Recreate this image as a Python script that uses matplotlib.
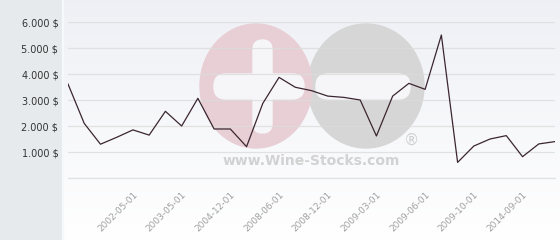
import numpy as np
import matplotlib
matplotlib.use("Agg")
import matplotlib.pyplot as plt
from matplotlib.patches import Ellipse, FancyBboxPatch, Rectangle

# data (31 points, every 3rd one labelled)
prices = [3615, 2100, 1300, 1565, 1850, 1650, 2565, 2000, 3065, 1885,
          1885, 1205, 2870, 3870, 3490, 3360, 3150, 3100, 3000, 1615,
          3150, 3640, 3410, 5500, 600, 1230, 1500, 1630, 820, 1310, 1400]
tick_pos = [4, 7, 10, 13, 16, 19, 22, 25, 28]
tick_labels = ["2002-05-01", "2003-05-01", "2004-12-01", "2008-06-01",
               "2008-12-01", "2009-03-01", "2009-06-01", "2009-10-01",
               "2014-09-01"]
y_ticks = [0, 1000, 2000, 3000, 4000, 5000, 6000]

W, H = 560, 240
fig = plt.figure(figsize=(W / 100, H / 100), dpi=100)
fig.patch.set_facecolor("#e6eaed")

# background layer in pixel coordinates
bg = fig.add_axes([0, 0, 1, 1], zorder=0)
bg.set_xlim(0, W)
bg.set_ylim(H, 0)
bg.axis("off")

grad = np.linspace(0, 1, 100).reshape(-1, 1)
top = np.array([0.933, 0.941, 0.961])
bottom = np.array([1.0, 1.0, 1.0])
img = top + (bottom - top) * grad[..., None]
bg.imshow(img, extent=[63, W, H, 0], aspect="auto", zorder=0)
bg.add_patch(Rectangle((62, 0), 1.2, H, color="#f7f8f9", zorder=1))

# watermark logo
bg.add_patch(Ellipse((366, 86), 116, 124, color="#d6d6d6", zorder=2))
bg.add_patch(Ellipse((256, 86), 112, 124, color="#e8cfd6", zorder=2))
bg.add_patch(FancyBboxPatch((253, 40), 19, 93, boxstyle="round,pad=0,rounding_size=9.5",
                            color="#f6f6f8", zorder=3))
bg.add_patch(FancyBboxPatch((214, 74), 90, 25, boxstyle="round,pad=0,rounding_size=12",
                            color="#f6f6f8", zorder=3))
bg.add_patch(FancyBboxPatch((316, 74), 94, 25, boxstyle="round,pad=0,rounding_size=12",
                            color="#f6f6f8", zorder=3))
bg.text(311, 161, "www.Wine-Stocks.com", ha="center", va="center",
        fontsize=10, fontweight="bold", color="#d2d2d2", zorder=3)
bg.text(412, 140, "®", ha="center", va="center", fontsize=11,
        color="#d0d0d0", zorder=3)

# data axes
ax = fig.add_axes([68 / W, 1 - 178 / H, 487 / W, 156 / H], zorder=1)
ax.patch.set_alpha(0)
x = np.arange(len(prices))
ax.plot(x, prices, color="#3b2630", linewidth=0.9, zorder=3)
ax.set_xlim(0, len(prices) - 1)
ax.set_ylim(0, 6000)

ax.set_yticks(y_ticks)
ax.set_yticklabels([("%d.000 $" % (v // 1000)) if v else "" for v in y_ticks],
                   fontsize=7, color="#333333")
ax.tick_params(axis="y", length=0, pad=7)
ax.yaxis.grid(True, color="#dcdcdc", linewidth=0.9, alpha=0.8)
ax.axhline(0, color="#dcdcdc", linewidth=0.9, alpha=0.8, clip_on=False, zorder=1)
ax.set_axisbelow(True)

ax.set_xticks(tick_pos)
ax.set_xticklabels(tick_labels, rotation=45, ha="right", rotation_mode="anchor",
                   fontsize=6.5, color="#a0a0a0")
ax.tick_params(axis="x", length=0, pad=9)

for s in ax.spines.values():
    s.set_visible(False)

fig.savefig("out.png", dpi=100, facecolor=fig.get_facecolor())
